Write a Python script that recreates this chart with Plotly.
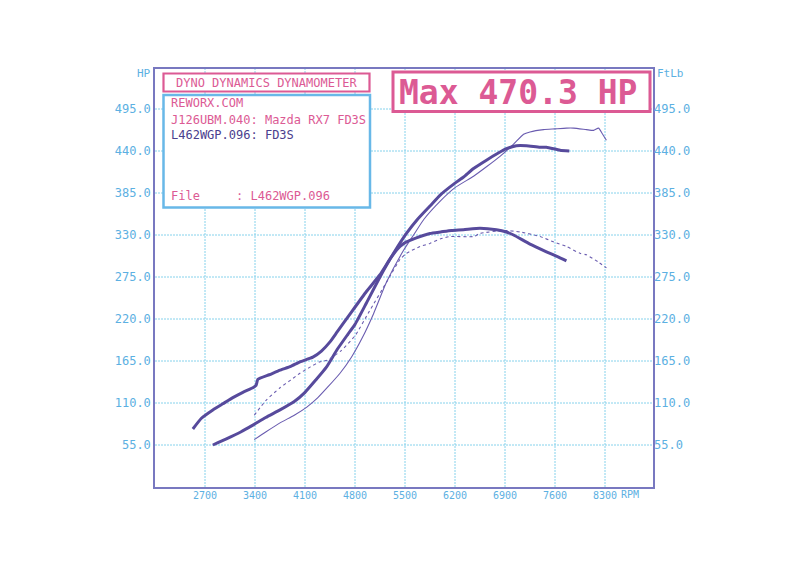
import plotly.graph_objects as go

# ---------------- data ----------------
rpm_ticks = [2700, 3400, 4100, 4800, 5500, 6200, 6900, 7600, 8300]
val_ticks = [55, 110, 165, 220, 275, 330, 385, 440, 495]
val_tick_text = ["55.0", "110.0", "165.0", "220.0", "275.0", "330.0", "385.0", "440.0", "495.0"]

# L462WGP.096 (thick) power, HP
l462_hp_rpm = [2810, 3000, 3200, 3370, 3550, 3750, 3950, 4100, 4250, 4400, 4550, 4700, 4800,
               4960, 5150, 5340, 5520, 5670, 5850, 6000, 6200, 6320, 6460, 6640, 6800,
               6920, 7060, 7200, 7390, 7480, 7670, 7800]
l462_hp = [55, 63, 72, 81, 91, 101, 112, 124, 140, 157, 180, 200, 213,
           241, 275, 306, 332, 350, 368, 383, 398, 406, 417, 428, 437,
           443, 447, 447, 445, 445, 441, 440]

# L462WGP.096 (thick) torque, FtLb
l462_tq_rpm = [2530, 2650, 2810, 2950, 3090, 3230, 3370, 3415, 3440, 3600, 3750, 3900, 4030,
               4210, 4330, 4450, 4550, 4750, 4960, 5150, 5300, 5430, 5520, 5650, 5850,
               6000, 6150, 6320, 6550, 6780, 6920, 7020, 7250, 7480, 7650, 7760]
l462_tq = [76, 90, 101, 109, 117, 124, 130, 133, 141, 147, 153, 158, 164,
           170, 178, 190, 203, 229, 256, 278, 300, 315, 321, 326, 332,
           334, 336, 337, 339, 337, 334, 330, 318, 308, 301, 296]

# J126UBM.040 (thin) power, HP
j126_hp_rpm = [3390, 3550, 3750, 3950, 4130, 4280, 4410, 4590, 4750, 4900, 5060, 5240, 5480,
               5620, 5760, 6000, 6200, 6460, 6650, 6830, 7020, 7160, 7250, 7440, 7600,
               7760, 7860, 8040, 8140, 8210, 8260, 8320]
j126_hp = [62, 72, 84, 94, 105, 117, 130, 149, 170, 195, 227, 268, 310,
           330, 350, 375, 392, 407, 420, 433, 449, 462, 465, 468, 469,
           470, 470, 468, 467, 470, 463, 454]

# J126UBM.040 (thin) torque, FtLb
j126_tq_rpm = [3390, 3550, 3750, 3900, 4030, 4170, 4310, 4410, 4600, 4800, 5000, 5240, 5430,
               5520, 5710, 5850, 6000, 6130, 6460, 6550, 6880, 7110, 7390, 7580, 7760,
               7950, 8040, 8200, 8320]
j126_tq = [94, 113, 130, 140, 149, 157, 164, 166, 178, 198, 230, 268, 298,
           306, 315, 319, 325, 328, 328, 332, 336, 334, 328, 321, 315,
           306, 304, 295, 287]

# ---------------- style ----------------
FONT = "DejaVu Sans Mono"
TICK_C = "#5cb0e2"
GRID_C = "#86d2ec"
FRAME_C = "#7878c0"
PINK = "#dc5a94"
BLUE = "#68b8e8"
THICK_C = "#574a9c"
THIN_C = "#6a5cb0"

W, H = 800, 566
OFF = 8                      # page body offset of the plot div
# target screen frame: x 155..653, y 69..487
L, T = 155 - OFF, 69 - OFF
R, B = W - 653 + OFF, H - 487 + OFF
PW, PH = 653 - 155, 487 - 69


def px(x):
    return (x - 155) / PW


def py(y):
    return (487 - y) / PH


fig = go.Figure()
fig.add_trace(go.Scatter(x=j126_hp_rpm, y=j126_hp, mode="lines",
                         line=dict(color=THIN_C, width=1.1, shape="spline", smoothing=0.5),
                         name="J126UBM HP"))
fig.add_trace(go.Scatter(x=j126_tq_rpm, y=j126_tq, mode="lines", yaxis="y2",
                         line=dict(color=THIN_C, width=1.1, dash="dot", shape="spline", smoothing=0.5),
                         name="J126UBM FtLb"))
fig.add_trace(go.Scatter(x=l462_hp_rpm, y=l462_hp, mode="lines",
                         line=dict(color=THICK_C, width=3, shape="spline", smoothing=0.5),
                         name="L462WGP HP"))
fig.add_trace(go.Scatter(x=l462_tq_rpm, y=l462_tq, mode="lines", yaxis="y2",
                         line=dict(color=THICK_C, width=3, shape="spline", smoothing=0.4),
                         name="L462WGP FtLb"))

yr = [0, 547.4]
fig.update_layout(
    template="none",
    width=W, height=H,
    margin=dict(l=L, r=R, t=T, b=B),
    paper_bgcolor="white", plot_bgcolor="white",
    showlegend=False,
    font=dict(family=FONT, color=TICK_C),
    xaxis=dict(range=[2000, 8972], tickvals=rpm_ticks, ticktext=[str(v) for v in rpm_ticks],
               showgrid=False,
               showline=True, linecolor=FRAME_C, linewidth=1.5, mirror=True,
               ticks="", zeroline=False, ticklabelstandoff=-2,
               tickfont=dict(family=FONT, size=10, color=TICK_C)),
    yaxis=dict(range=yr, tickvals=val_ticks, ticktext=val_tick_text,
               showgrid=False,
               showline=True, linecolor=FRAME_C, linewidth=1.5, mirror=True,
               ticks="", zeroline=False, tickfont=dict(family=FONT, size=12, color=TICK_C)),
    yaxis2=dict(range=yr, tickvals=val_ticks, ticktext=val_tick_text, overlaying="y", side="right",
                showgrid=False, showline=False, ticks="", zeroline=False,
                tickfont=dict(family=FONT, size=12, color=TICK_C)),
)

# dotted cyan grid drawn from the tick arrays
grid_line = dict(color=GRID_C, width=1, dash="2px,1px")
shapes = []
for v in rpm_ticks:
    shapes.append(dict(type="line", xref="x", yref="paper", x0=v, x1=v, y0=0, y1=1,
                       line=grid_line, layer="below"))
for v in val_ticks:
    shapes.append(dict(type="line", xref="paper", yref="y", x0=0, x1=1, y0=v, y1=v,
                       line=grid_line, layer="below"))

shapes += [
    dict(type="rect", xref="paper", yref="paper", x0=px(163.5), x1=px(369.5), y0=py(91.5), y1=py(73.5),
         line=dict(color=PINK, width=2.2), fillcolor="white"),
    dict(type="rect", xref="paper", yref="paper", x0=px(163.5), x1=px(370), y0=py(207.5), y1=py(95),
         line=dict(color=BLUE, width=2.5), fillcolor="white"),
    dict(type="rect", xref="paper", yref="paper", x0=px(393), x1=px(650), y0=py(111.5), y1=py(72),
         line=dict(color=PINK, width=3), fillcolor="white"),
]
fig.update_layout(shapes=shapes)

ann = [
    dict(text="DYNO DYNAMICS DYNAMOMETER", x=px(266.5), y=py(82.7), xanchor="center", yanchor="middle",
         font=dict(size=12, color=PINK)),
    dict(text="REWORX.COM", x=px(168.5), y=py(103.3), xanchor="left", yanchor="middle",
         font=dict(size=12, color=PINK)),
    dict(text="J126UBM.040: Mazda RX7 FD3S", x=px(168.5), y=py(120.5), xanchor="left", yanchor="middle",
         font=dict(size=12, color=PINK)),
    dict(text="L462WGP.096: FD3S", x=px(168.5), y=py(135), xanchor="left", yanchor="middle",
         font=dict(size=12, color="#4b408e")),
    dict(text="File     : L462WGP.096", x=px(168.5), y=py(196), xanchor="left", yanchor="middle",
         font=dict(size=12, color=PINK)),
    dict(text="<b>Max 470.3 HP</b>", x=px(517.5), y=py(92), xanchor="center", yanchor="middle",
         font=dict(size=33, color=PINK)),
    dict(text="HP", x=px(153), y=py(73), xanchor="right", yanchor="middle",
         font=dict(size=11, color=TICK_C)),
    dict(text="FtLb", x=px(655), y=py(73), xanchor="left", yanchor="middle",
         font=dict(size=11, color=TICK_C)),
    dict(text="RPM", x=px(630), y=py(494), xanchor="center", yanchor="middle",
         font=dict(size=10, color=TICK_C)),
]
for a in ann:
    a.update(xref="paper", yref="paper", showarrow=False)
    a["font"]["family"] = FONT
fig.update_layout(annotations=ann)

fig.write_html("out.html")
